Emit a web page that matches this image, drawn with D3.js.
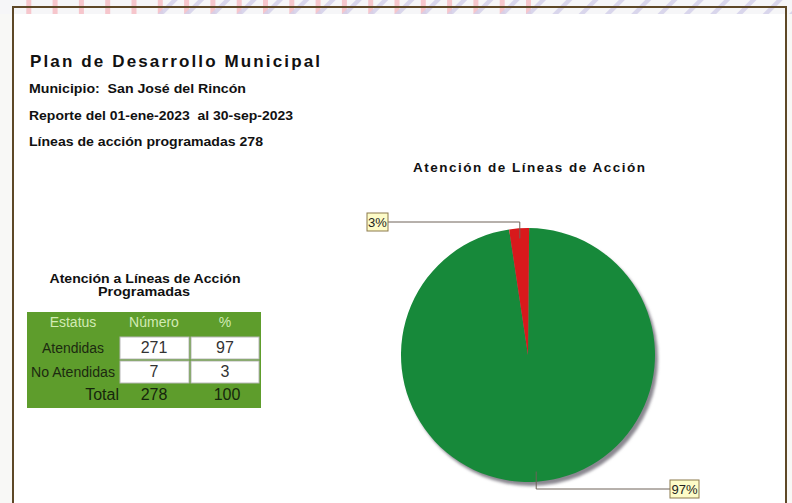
<!DOCTYPE html>
<html>
<head>
<meta charset="utf-8">
<script src="https://cdn.jsdelivr.net/npm/d3@7"></script>
<style>
  body { margin: 0; background: #fafafa; }
  svg { display: block; }
</style>
</head>
<body>
<script>
(function() {
const width = 792;
const height = 503;

// datos
const estatus = ["Atendidas", "No Atendidas"];
const numero = [271, 7];
const porcentaje = [97, 3];
const encabezados = ["Estatus", "Número", "%"];
const lineasHeader = [
  "Municipio:  San José del Rincón",
  "Reporte del 01-ene-2023  al 30-sep-2023",
  "Líneas de acción programadas 278"
];

const font = "'Liberation Sans', Arial, Helvetica, sans-serif";

const svg = d3.select("body").append("svg")
  .attr("width", width)
  .attr("height", height)
  .style("font-family", font);

const defs = svg.append("defs");

// fondo y marco (relleno)
svg.append("rect").attr("width", width).attr("height", height).attr("fill", "#f8f8f6");
svg.append("rect")
  .attr("x", 13).attr("y", 7)
  .attr("width", 773).attr("height", height + 20)
  .attr("fill", "#fff");

// franja decorativa superior
svg.append("rect").attr("width", width).attr("height", 14).attr("fill", "#f6f6f8");
const band = svg.append("g");
d3.range(1, 21).forEach(i => {
  band.append("rect")
    .attr("x", i * 26.3).attr("y", 0).attr("width", 5).attr("height", 14)
    .attr("fill", "#f6c6cc");
});
d3.range(6, 32).forEach(i => {
  const x0 = i * 26.3;
  band.append("path")
    .attr("d", `M${x0},14 L${x0 + 14},0 L${x0 + 20},0 L${x0 + 6},14 Z`)
    .attr("fill", "#d4d0ea")
    .attr("opacity", 0.85);
});

// marco (borde)
svg.append("rect")
  .attr("x", 13).attr("y", 7)
  .attr("width", 773).attr("height", height + 20)
  .attr("fill", "none")
  .attr("stroke", "#5e4827")
  .attr("stroke-width", 2);

// encabezado
svg.append("text")
  .attr("x", 30).attr("y", 67)
  .attr("font-size", 17).attr("font-weight", "bold")
  .attr("textLength", 290).attr("lengthAdjust", "spacing")
  .attr("fill", "#111")
  .text("Plan de Desarrollo Municipal");

const hLen = [217, 264, 234];
svg.append("g").selectAll("text")
  .data(lineasHeader)
  .join("text")
  .attr("x", 29)
  .attr("y", (d, i) => 93 + i * 26.5)
  .attr("font-size", 13).attr("font-weight", "bold")
  .attr("textLength", (d, i) => hLen[i]).attr("lengthAdjust", "spacingAndGlyphs")
  .attr("fill", "#111")
  .style("white-space", "pre")
  .text(d => d);

// título de la tabla
svg.append("text")
  .attr("x", 145).attr("y", 283)
  .attr("text-anchor", "middle")
  .attr("font-size", 12.5).attr("font-weight", "bold")
  .attr("textLength", 191).attr("lengthAdjust", "spacingAndGlyphs")
  .attr("fill", "#111")
  .text("Atención a Líneas de Acción");
svg.append("text")
  .attr("x", 144).attr("y", 296)
  .attr("text-anchor", "middle")
  .attr("font-size", 12.5).attr("font-weight", "bold")
  .attr("textLength", 92).attr("lengthAdjust", "spacingAndGlyphs")
  .attr("fill", "#111")
  .text("Programadas");

// tabla
const colX = d3.scaleOrdinal().domain([0, 1, 2]).range([27, 119, 190]);
const colW = [92, 71, 70];
const colC = [73, 154, 225];
const rowY = d3.scaleBand().domain(d3.range(4)).range([312, 408]);

const table = svg.append("g");
table.append("rect")
  .attr("x", 27).attr("y", 312).attr("width", 234).attr("height", 96)
  .attr("fill", "#5e9d2c");

table.selectAll(".hdr")
  .data(encabezados)
  .join("text")
  .attr("class", "hdr")
  .attr("x", (d, i) => colC[i])
  .attr("y", 327)
  .attr("text-anchor", "middle")
  .attr("font-size", 14)
  .attr("fill", "#d2ebb4")
  .text(d => d);

const filas = estatus.map((e, i) => ({ e, n: numero[i], p: porcentaje[i], i }));
const fila = table.selectAll(".fila")
  .data(filas)
  .join("g")
  .attr("class", "fila");

[1, 2].forEach(c => {
  fila.append("rect")
    .attr("x", colX(c) + 1)
    .attr("y", d => rowY(d.i + 1) + 1)
    .attr("width", colW[c] - 2)
    .attr("height", rowY.bandwidth() - 2)
    .attr("fill", "#fff")
    .attr("stroke", "#b8b8b8")
    .attr("stroke-width", 1);
});
fila.append("text")
  .attr("x", colC[0]).attr("y", d => rowY(d.i + 1) + 17)
  .attr("text-anchor", "middle").attr("font-size", 14)
  .attr("textLength", d => d.i === 0 ? 62 : 84).attr("lengthAdjust", "spacingAndGlyphs")
  .attr("fill", "#1c2a10")
  .text(d => d.e);
fila.append("text")
  .attr("x", colC[1]).attr("y", d => rowY(d.i + 1) + 17)
  .attr("text-anchor", "middle").attr("font-size", 16)
  .attr("fill", "#333")
  .text(d => d.n);
fila.append("text")
  .attr("x", colC[2]).attr("y", d => rowY(d.i + 1) + 17)
  .attr("text-anchor", "middle").attr("font-size", 16)
  .attr("fill", "#333")
  .text(d => d.p);

// fila total
const totY = rowY(3) + 16;
table.append("text")
  .attr("x", 119).attr("y", totY).attr("text-anchor", "end")
  .attr("font-size", 16).attr("fill", "#16260c").text("Total");
table.append("text")
  .attr("x", colC[1]).attr("y", totY).attr("text-anchor", "middle")
  .attr("font-size", 16).attr("fill", "#16260c").text(d3.sum(numero));
table.append("text")
  .attr("x", colC[2] + 2).attr("y", totY).attr("text-anchor", "middle")
  .attr("font-size", 16).attr("fill", "#16260c").text(d3.sum(porcentaje));

// gráfica de pastel
svg.append("text")
  .attr("x", 529).attr("y", 172)
  .attr("text-anchor", "middle")
  .attr("font-size", 13.5).attr("font-weight", "bold")
  .attr("textLength", 232).attr("lengthAdjust", "spacing")
  .attr("fill", "#111")
  .text("Atención de Líneas de Acción");

const cx = 528, cy = 355, r = 127;
const colores = d3.scaleOrdinal().domain(estatus).range(["#17893a", "#d8191c"]);

const pie = d3.pie()
  .sort(null)
  .value(d => d.n)
  .startAngle(0.5 * Math.PI / 180)
  .endAngle(0.5 * Math.PI / 180 + 2 * Math.PI);
const arcs = pie(filas);
const arc = d3.arc().innerRadius(0).outerRadius(r);

defs.append("filter").attr("id", "sombra")
  .append("feGaussianBlur").attr("stdDeviation", 1.5);

const pieG = svg.append("g").attr("transform", `translate(${cx},${cy})`);
pieG.append("circle")
  .attr("cx", 3).attr("cy", 4).attr("r", r)
  .attr("fill", "#8a8790")
  .attr("filter", "url(#sombra)");
pieG.selectAll("path")
  .data(arcs)
  .join("path")
  .attr("d", arc)
  .attr("fill", d => colores(d.data.e));

// etiquetas con líneas guía
const etiquetas = arcs.map(a => {
  const mid = (a.startAngle + a.endAngle) / 2;
  const px = Math.sin(mid) * r * 0.92;
  const py = -Math.cos(mid) * r * 0.92;
  const up = py < 0;
  const ly = up ? -(r + 6) : (r + 7);
  const bx = up ? -140 : 142;
  return { a, px, py, ly, bx, up, label: a.data.p + "%" };
});

const lab = pieG.selectAll(".lab")
  .data(etiquetas)
  .join("g")
  .attr("class", "lab");
lab.append("path")
  .attr("d", d => `M${d.px},${d.py} L${d.px},${d.ly} L${d.bx},${d.ly}`)
  .attr("fill", "none")
  .attr("stroke", "#6e6258")
  .attr("stroke-width", 1);
lab.each(function(d) {
  const g = d3.select(this);
  const w = d.label.length * 8 + 5;
  const x0 = d.up ? d.bx - w : d.bx;
  g.append("rect")
    .attr("x", x0).attr("y", d.ly - 9)
    .attr("width", w).attr("height", 18)
    .attr("fill", "#fdfcc8")
    .attr("stroke", "#8c7a4c");
  g.append("text")
    .attr("x", x0 + w / 2).attr("y", d.ly + 5)
    .attr("text-anchor", "middle")
    .attr("font-size", 13)
    .attr("fill", "#222")
    .text(d.label);
});
}());
</script>
</body>
</html>
